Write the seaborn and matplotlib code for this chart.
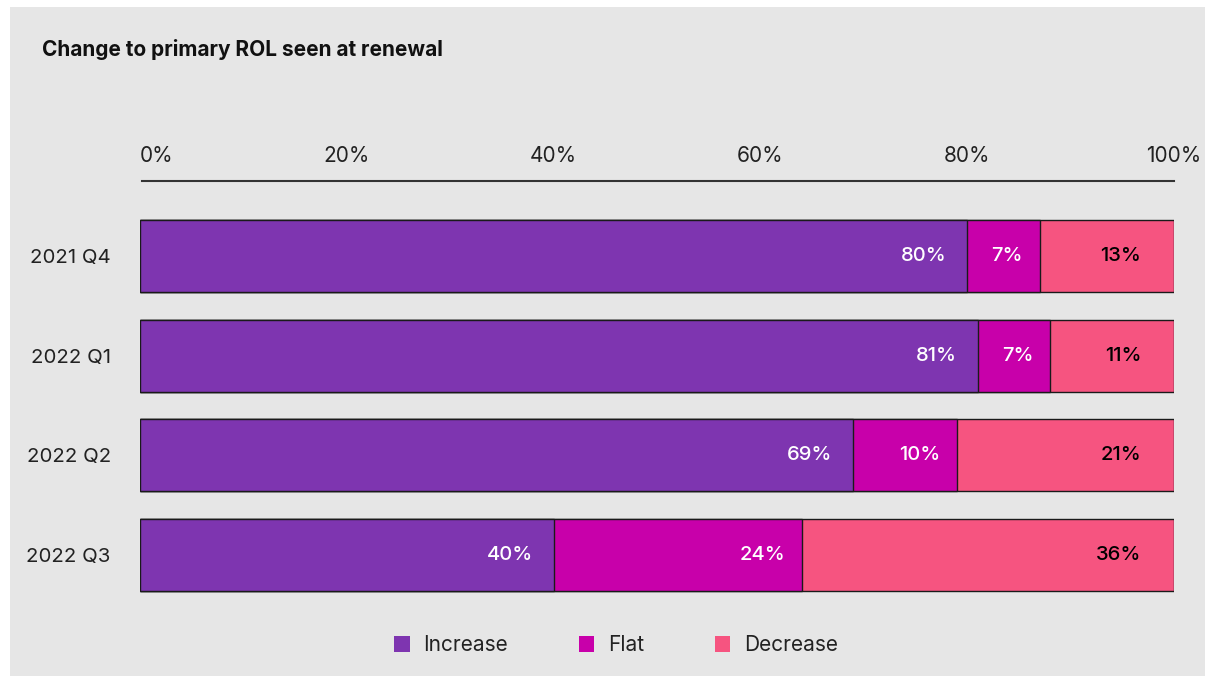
import matplotlib
matplotlib.use("Agg")
import matplotlib.pyplot as plt
import matplotlib.patches as mpatches
import seaborn as sns
import numpy as np
import pandas as pd

# ---- data ----
quarters = ["2021 Q4", "2022 Q1", "2022 Q2", "2022 Q3"]
increase = [80, 81, 69, 40]
flat = [7, 7, 10, 24]
decrease = [13, 11, 21, 36]
series_names = ["Increase", "Flat", "Decrease"]
x_ticks = [0, 20, 40, 60, 80, 100]
x_ticklabels = ["0%", "20%", "40%", "60%", "80%", "100%"]
title = "Change to primary ROL seen at renewal"

colors = {"Increase": "#7E35B0", "Flat": "#C800AA", "Decrease": "#F65480"}
bg = "#E6E6E6"

sns.set_theme(style="white")
plt.rcParams["font.family"] = ["Inter", "DejaVu Sans"]

W, H = 1208, 676
fig = plt.figure(figsize=(W / 100, H / 100), dpi=100, facecolor="white")
fig.patches.append(mpatches.Rectangle((10 / W, 0), (1205 - 10) / W, (676 - 7) / H,
                                      transform=fig.transFigure, facecolor=bg,
                                      edgecolor="none", zorder=-10))

ax_left, ax_right = 140 / W, 1174 / W
ax_top, ax_bot = 1 - 181 / H, 1 - 620 / H
ax = fig.add_axes([ax_left, ax_bot, ax_right - ax_left, ax_top - ax_bot])
ax.set_facecolor("none")

inc = np.array(increase, float)
fl = np.array(flat, float)
cum_flat = inc + fl
total = np.full(len(quarters), 100.0)  # shares make up the full row

df = pd.DataFrame({"quarter": quarters, "inc": inc, "cumflat": cum_flat, "total": total})
for col, name in [("total", "Decrease"), ("cumflat", "Flat"), ("inc", "Increase")]:
    sns.barplot(data=df, x=col, y="quarter", orient="h", color=colors[name],
                width=0.72, edgecolor="#1a1a1a", linewidth=1.0, saturation=1,
                ax=ax, label=name)

ax.set_xlim(0, 100)
ax.set_ylim(3.65, -0.75)

# value labels inside segments
lab_font = dict(fontsize=14.5, fontweight="medium", va="center", ha="right")
for i in range(len(quarters)):
    ax.annotate(f"{increase[i]}%", (inc[i], i), xytext=(-15, 0),
                textcoords="offset points", color="white", **lab_font)
    ax.annotate(f"{flat[i]}%", (cum_flat[i], i), xytext=(-12, 0),
                textcoords="offset points", color="white", **lab_font)
    ax.annotate(f"{decrease[i]}%", (total[i], i), xytext=(-23.5, 0),
                textcoords="offset points", color="black", **lab_font)

# axes styling
ax.xaxis.tick_top()
ax.set_xticks(x_ticks)
ax.set_xticklabels(x_ticklabels, fontsize=15, color="#222222")
ax.tick_params(axis="x", length=0, pad=11)
ax.get_xticklabels()[0].set_horizontalalignment("left")
ax.tick_params(axis="y", length=0, pad=21, labelsize=14.7, labelcolor="#222222")
ax.set_xlabel("")
ax.set_ylabel("")
for s in ["left", "right", "bottom"]:
    ax.spines[s].set_visible(False)
ax.spines["top"].set_color("#333333")
ax.spines["top"].set_linewidth(1.5)
ax.spines["top"].set_bounds(0.2, 100)
if ax.get_legend() is not None:
    ax.get_legend().remove()

fig.text(42 / W, 1 - 49 / H, title, fontsize=15, fontweight="bold", color="#111111",
         va="center", ha="left")

handles = [mpatches.Patch(facecolor=colors[n], edgecolor="none") for n in series_names]
fig.legend(handles, series_names, loc="center", bbox_to_anchor=(616 / W, 1 - 645 / H),
           ncol=3, frameon=False, fontsize=15, handlelength=0.75, handleheight=0.8,
           handletextpad=0.65, columnspacing=3.4, labelcolor="#222222")

fig.savefig("out.png", dpi=100, facecolor=fig.get_facecolor())
